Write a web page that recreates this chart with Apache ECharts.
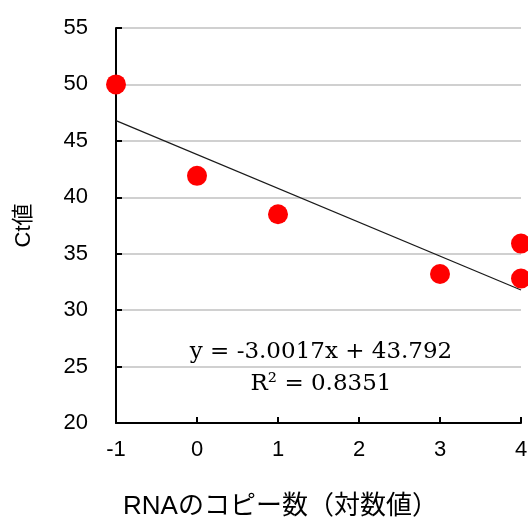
<!DOCTYPE html>
<html>
<head>
<meta charset="utf-8">
<script src="https://cdn.jsdelivr.net/npm/echarts@6/dist/echarts.min.js"></script>
<style>
html, body { margin: 0; padding: 0; background: #fff; }
#main { width: 528px; height: 525px; }
</style>
</head>
<body>
<div id="main"></div>
<script>
var myChart = echarts.init(document.getElementById('main'));

// 対数値 / Ct値
var logCopies = [-1, 0, 1, 3, 4, 4];
var ctValues = [50, 41.9, 38.5, 33.2, 35.9, 32.8];
// 近似直線 (Excel の表示どおり)
var slope = -3.0017;
var intercept = 43.792;
var rSquared = '0.8351';
var lineX = [-1, 4];

var points = logCopies.map(function (x, i) { return [x, ctValues[i]]; });
var trend = lineX.map(function (x) { return [x, slope * x + intercept]; });

option = {
    animation: false,
    grid: {
        left: 116,
        right: 7,
        top: 28,
        bottom: 102,
        outerBoundsMode: 'none'
    },
    xAxis: {
        type: 'value',
        min: -1,
        max: 4,
        interval: 1,
        name: 'RNAのコピー数（対数値）',
        nameLocation: 'middle',
        nameGap: 71,
        nameTextStyle: { fontSize: 26, color: '#000', fontFamily: 'Liberation Sans, Noto Sans CJK JP', padding: [0, 76, 0, 0] },
        axisLine: { onZero: false, lineStyle: { color: '#000', width: 2 } },
        axisTick: { inside: true, length: 6, lineStyle: { color: '#000', width: 2 } },
        axisLabel: { fontSize: 22, color: '#000', margin: 16, fontFamily: 'Liberation Sans' },
        splitLine: { show: false }
    },
    yAxis: {
        type: 'value',
        min: 20,
        max: 55,
        interval: 5,
        name: 'Ct値',
        nameLocation: 'middle',
        nameGap: 81,
        nameRotate: 90,
        nameTextStyle: { fontSize: 22, color: '#000', fontFamily: 'Liberation Sans, Noto Sans CJK JP' },
        axisLine: { show: true, onZero: false, lineStyle: { color: '#000', width: 2 } },
        axisTick: { show: true, inside: true, length: 6, lineStyle: { color: '#000', width: 2 } },
        axisLabel: { fontSize: 22, color: '#000', margin: 28, fontFamily: 'Liberation Sans' },
        splitLine: { lineStyle: { color: '#c0c0c0', width: 1.5 } }
    },
    series: [
        {
            type: 'line',
            data: trend,
            symbol: 'none',
            lineStyle: { color: '#1a1a1a', width: 1.2 },
            z: 3
        },
        {
            type: 'scatter',
            data: points,
            symbolSize: 20,
            itemStyle: { color: '#ff0000', opacity: 1 },
            clip: false,
            z: 4
        }
    ],
    graphic: [
        {
            type: 'text',
            x: 321,
            y: 352,
            style: {
                text: 'y = ' + slope + 'x + ' + intercept,
                align: 'center',
                verticalAlign: 'middle',
                font: '23px "DejaVu Serif"',
                fill: '#000'
            },
            z: 10
        },
        {
            type: 'text',
            x: 321,
            y: 384,
            style: {
                text: 'R² = ' + rSquared,
                align: 'center',
                verticalAlign: 'middle',
                font: '23px "DejaVu Serif"',
                fill: '#000'
            },
            z: 10
        }
    ]
};

myChart.setOption(option);
</script>
</body>
</html>
